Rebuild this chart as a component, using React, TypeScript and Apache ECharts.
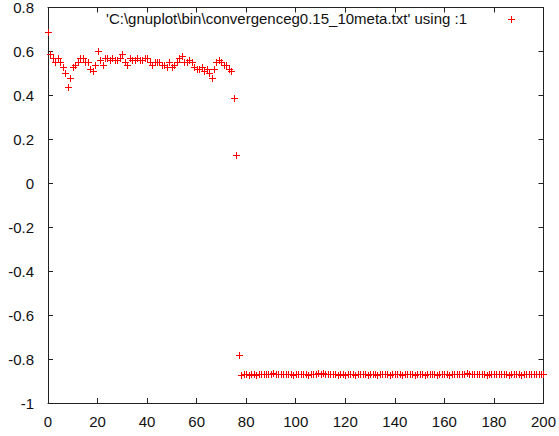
import React, { useEffect, useRef } from "react";
import * as echarts from "echarts";

const seriesName = "'C:\\gnuplot\\bin\\convergenceg0.15_10meta.txt' using :1";

// x = 0..77
const upperValues = [
  0.69, 0.59, 0.57, 0.55, 0.57, 0.55, 0.53, 0.5, 0.44, 0.48,
  0.53, 0.54, 0.55, 0.57, 0.57, 0.55, 0.55, 0.52, 0.51, 0.54,
  0.6, 0.56, 0.54, 0.57, 0.57, 0.56, 0.57, 0.56, 0.56, 0.57,
  0.59, 0.55, 0.54, 0.57, 0.56, 0.56, 0.57, 0.56, 0.56, 0.57,
  0.57, 0.55, 0.54, 0.55, 0.55, 0.55, 0.54, 0.54, 0.53, 0.55,
  0.53, 0.54, 0.55, 0.57, 0.58, 0.55, 0.55, 0.56, 0.55, 0.53,
  0.52, 0.52, 0.53, 0.51, 0.52, 0.5, 0.48, 0.52, 0.55, 0.56,
  0.55, 0.54, 0.54, 0.52, 0.51, 0.39, 0.13, -0.78,
];

// x = 78..200
const lowerStart = 78;
const lowerValues = [
  -0.872, -0.87, -0.87, -0.871, -0.869, -0.87, -0.871, -0.87, -0.868, -0.87,
  -0.869, -0.866, -0.87, -0.865, -0.866, -0.87, -0.868, -0.869, -0.87, -0.868,
  -0.87, -0.871, -0.869, -0.87, -0.87, -0.868, -0.87, -0.871, -0.869, -0.87,
  -0.866, -0.865, -0.867, -0.865, -0.866, -0.868, -0.87, -0.869, -0.87, -0.871,
  -0.87, -0.869, -0.871, -0.87, -0.87, -0.869, -0.871, -0.87, -0.87, -0.869,
  -0.87, -0.871, -0.87, -0.869, -0.87, -0.871, -0.87, -0.87, -0.869, -0.87,
  -0.871, -0.87, -0.869, -0.87, -0.87, -0.871, -0.87, -0.869, -0.87, -0.87,
  -0.871, -0.87, -0.869, -0.87, -0.871, -0.87, -0.87, -0.869, -0.87, -0.871,
  -0.87, -0.869, -0.87, -0.87, -0.871, -0.87, -0.869, -0.87, -0.87, -0.867,
  -0.866, -0.865, -0.867, -0.866, -0.868, -0.87, -0.869, -0.87, -0.87, -0.871,
  -0.87, -0.869, -0.868, -0.866, -0.867, -0.87, -0.869, -0.87, -0.871, -0.87,
  -0.869, -0.87, -0.87, -0.871, -0.87, -0.869, -0.87, -0.87, -0.868, -0.867,
  -0.866, -0.868, -0.87,
];

const xTicks = { min: 0, max: 200, interval: 20 };
const yTicks = { min: -1, max: 0.8, interval: 0.2 };

const RED = "#ff0000";
const FONT = "'Liberation Sans', Arial, sans-serif";
const AXIS_COLOR = "#222";
const HALF = 3.5;

function plusPath(cx: number, cy: number) {
  return (
    "M" + (cx - HALF) + "," + cy + "L" + (cx + HALF) + "," + cy +
    "M" + cx + "," + (cy - HALF) + "L" + cx + "," + (cy + HALF)
  );
}

export default function App() {
  const ref = useRef<HTMLDivElement>(null);

  useEffect(() => {
    if (!ref.current) return;
    const chart = echarts.init(ref.current, null, { renderer: "svg" });
    const data: number[][] = [
      ...upperValues.map((v, i) => [i, v]),
      ...lowerValues.map((v, i) => [lowerStart + i, v]),
    ];
    const tickStyle = {
      show: true,
      inside: true,
      length: 5,
      lineStyle: { color: AXIS_COLOR, width: 1 },
    };
    const lineStyle = {
      show: true,
      onZero: false,
      lineStyle: { color: AXIS_COLOR, width: 1 },
    };
    chart.setOption({
      animation: false,
      color: [RED],
      backgroundColor: "#fff",
      textStyle: { fontFamily: FONT },
      grid: {
        left: 48,
        right: 11,
        top: 7,
        bottom: 33,
        containLabel: false,
        show: false,
      },
      legend: { show: false },
      graphic: [
        {
          type: "text",
          right: 92,
          top: 11,
          style: {
            text: seriesName,
            fontFamily: FONT,
            fontSize: 15,
            fill: "#111",
          },
        },
        {
          type: "line",
          shape: { x1: 508, y1: 19.5, x2: 515, y2: 19.5 },
          style: { stroke: RED, lineWidth: 1 },
        },
        {
          type: "line",
          shape: { x1: 511.5, y1: 16, x2: 511.5, y2: 23 },
          style: { stroke: RED, lineWidth: 1 },
        },
      ],
      xAxis: [
        {
          type: "value",
          min: xTicks.min,
          max: xTicks.max,
          interval: xTicks.interval,
          position: "bottom",
          axisLine: lineStyle,
          axisTick: tickStyle,
          splitLine: { show: false },
          axisLabel: { color: "#111", fontSize: 15, margin: 11, fontFamily: FONT },
        },
        {
          type: "value",
          min: xTicks.min,
          max: xTicks.max,
          interval: xTicks.interval,
          position: "top",
          axisLine: lineStyle,
          axisTick: tickStyle,
          splitLine: { show: false },
          axisLabel: { show: false },
        },
      ],
      yAxis: [
        {
          type: "value",
          min: yTicks.min,
          max: yTicks.max,
          interval: yTicks.interval,
          position: "left",
          axisLine: lineStyle,
          axisTick: tickStyle,
          splitLine: { show: false },
          axisLabel: { color: "#111", fontSize: 15, margin: 14, fontFamily: FONT },
        },
        {
          type: "value",
          min: yTicks.min,
          max: yTicks.max,
          interval: yTicks.interval,
          position: "right",
          axisLine: lineStyle,
          axisTick: tickStyle,
          splitLine: { show: false },
          axisLabel: { show: false },
        },
      ],
      series: [
        {
          name: seriesName,
          type: "custom",
          xAxisIndex: 0,
          yAxisIndex: 0,
          coordinateSystem: "cartesian2d",
          emphasis: { disabled: true },
          encode: { x: 0, y: 1 },
          renderItem: (_params: any, api: any) => {
            const p = api.coord([api.value(0), api.value(1)]);
            const cx = Math.round(p[0]) + 0.5;
            const cy = Math.round(p[1]) + 0.5;
            return {
              type: "path",
              shape: { pathData: plusPath(cx, cy) },
              style: { fill: "none", stroke: RED, lineWidth: 1 },
            };
          },
          data,
        },
      ],
    });
    return () => chart.dispose();
  }, []);

  return (
    <div
      ref={ref}
      style={{ position: "absolute", left: 0, top: 0, width: 559, height: 436 }}
    />
  );
}
